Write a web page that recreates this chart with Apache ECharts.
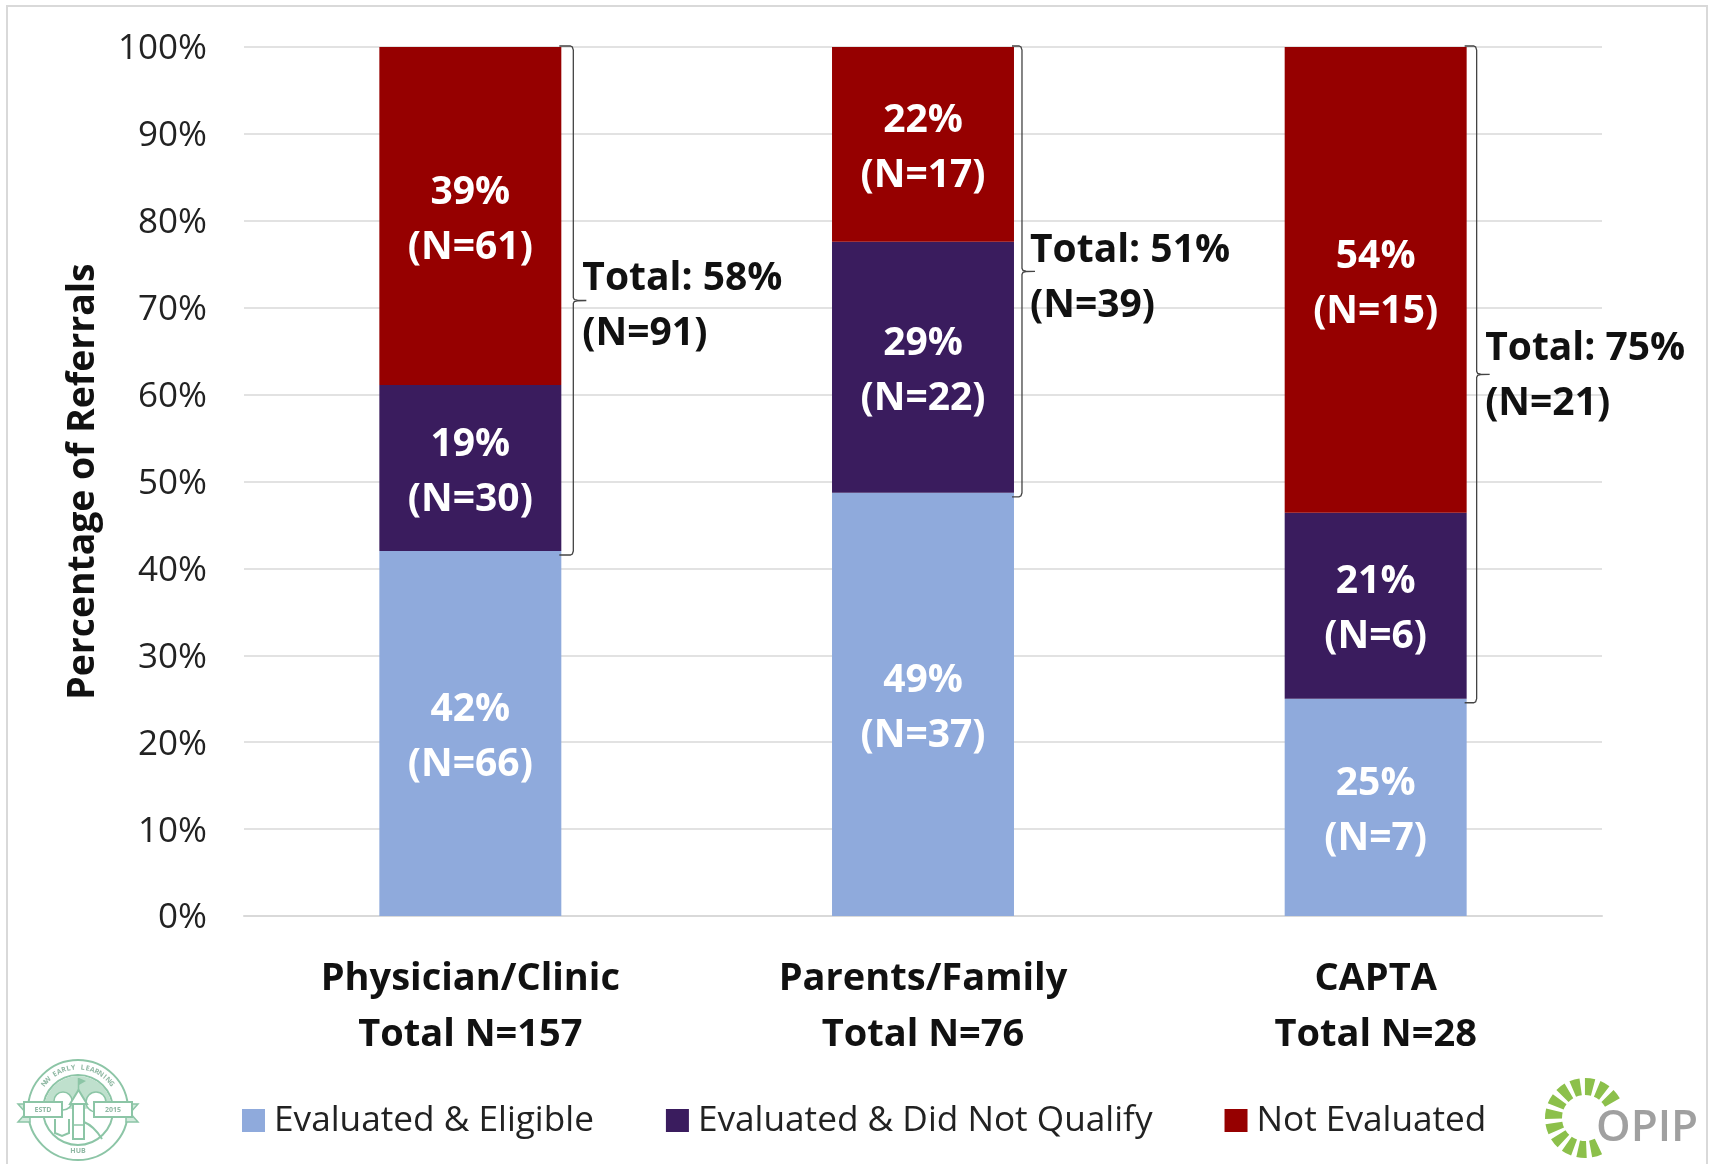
<!DOCTYPE html>
<html><head><meta charset="utf-8">
<style>html,body{margin:0;padding:0;background:#fff}#c{width:1709px;height:1164px}</style>
<script src="https://cdn.jsdelivr.net/npm/echarts@6/dist/echarts.min.js"></script>
</head><body><div id="c"></div>
<script>
const categories = ['Physician/Clinic\nTotal N=157', 'Parents/Family\nTotal N=76', 'CAPTA\nTotal N=28'];
const seriesNames = ['Evaluated & Eligible', 'Evaluated & Did Not Qualify', 'Not Evaluated'];
const eligiblePct = [42.0, 48.7, 25.0];
const eligibleN = [66, 37, 7];
const notQualifyPct = [19.1, 28.9, 21.4];
const notQualifyN = [30, 22, 6];
const notEvaluatedPct = [38.9, 22.4, 53.6];
const notEvaluatedN = [61, 17, 15];
const totalPct = [58, 51, 75];
const totalN = [91, 39, 21];
const colors = ['#8faadc', '#3a1c5e', '#960000'];

const FONT = '"Open Sans"';
const braceGap = [12, 8, 10];
const totalLabelDx = [9, 8, 8.5];
const totalLabelDy = [6, 7, 2];

function bar(name, vals, ns, color) {
  return {
    name, type: 'bar', stack: 'all', barWidth: '40.2%', data: vals,
    itemStyle: { color },
    label: {
      show: true, position: 'inside', offset: [0, 4], color: '#fff', fontFamily: FONT, fontWeight: 700,
      fontSize: 39, lineHeight: 55,
      formatter: p => Math.round(p.value) + '%\n(N=' + ns[p.dataIndex] + ')'
    }
  };
}

const braceData = categories.map((c, i) => [i, eligiblePct[i], 100, totalPct[i], totalN[i]]);

function renderBrace(params, api) {
  const i = api.value(0);
  const bottom = api.coord([i, api.value(1)]);
  const top = api.coord([i, api.value(2)]);
  const half = api.size([1, 0])[0] * 0.201;
  const left = bottom[0] + half;
  const x = left + braceGap[i];
  const y0 = top[1] - 1, y1 = bottom[1] + 4;
  const m = (y0 + y1) / 2;
  const tip = x + 13;
  const pts = [
    [left - 2, y0], [x - 3, y0], [x - 1, y0 + 1], [x, y0 + 4], [x, m - 3], [x + 1, m - 1], [x + 4, m - 0.3], [tip, m],
    [x + 4, m + 0.3], [x + 1, m + 1], [x, m + 3], [x, y1 - 4], [x - 1, y1 - 1], [x - 3, y1], [left - 2, y1]
  ];
  return {
    type: 'group',
    children: [
      { type: 'polyline', shape: { points: pts }, style: { fill: 'none', stroke: '#444', lineWidth: 1.3 } },
      {
        type: 'text', x: x + totalLabelDx[i], y: m + totalLabelDy[i],
        style: {
          text: 'Total: ' + api.value(3) + '%\n(N=' + api.value(4) + ')',
          fill: '#111', font: '700 39px ' + FONT, lineHeight: 55,
          align: 'left', verticalAlign: 'middle'
        }
      }
    ]
  };
}

/* logos */
const badgeGreen = '#8cc5a6';
const badge = [];
const bx = 78, by = 1110;
badge.push({ type: 'circle', shape: { cx: bx, cy: by, r: 50 }, style: { fill: '#fff', stroke: badgeGreen, lineWidth: 2 } });
badge.push({ type: 'circle', shape: { cx: bx, cy: by, r: 35 }, style: { fill: '#fff', stroke: badgeGreen, lineWidth: 2 } });
badge.push({ type: 'sector', shape: { cx: bx, cy: by, r: 34, r0: 0, startAngle: Math.PI * 1.05, endAngle: Math.PI * 1.95 }, style: { fill: '#bfe0cd' } });
badge.push({ type: 'circle', shape: { cx: 63, cy: 1101, r: 9 }, style: { fill: '#fff', stroke: badgeGreen, lineWidth: 1.5 } });
badge.push({ type: 'circle', shape: { cx: 96, cy: 1102, r: 10 }, style: { fill: '#fff', stroke: badgeGreen, lineWidth: 1.5 } });
badge.push({ type: 'rect', shape: { x: 73, y: 1103, width: 11, height: 36 }, style: { fill: '#fff', stroke: badgeGreen, lineWidth: 2 } });
badge.push({ type: 'polygon', shape: { points: [[70, 1104], [87, 1104], [78.5, 1090]] }, style: { fill: '#fff', stroke: badgeGreen, lineWidth: 2 } });
badge.push({ type: 'line', shape: { x1: 78.5, y1: 1090, x2: 78.5, y2: 1078 }, style: { stroke: badgeGreen, lineWidth: 1.5 } });
badge.push({ type: 'polygon', shape: { points: [[79, 1078], [86, 1081], [79, 1085]] }, style: { fill: badgeGreen } });
badge.push({ type: 'line', shape: { x1: 73, y1: 1125, x2: 84, y2: 1125 }, style: { stroke: badgeGreen, lineWidth: 1.5 } });
badge.push({ type: 'polyline', shape: { points: [[55, 1119], [55, 1133], [62, 1136], [69, 1133], [69, 1119]] }, style: { fill: 'none', stroke: badgeGreen, lineWidth: 2 } });
badge.push({ type: 'bezierCurve', shape: { x1: 84, y1: 1122, cpx1: 94, cpy1: 1126, x2: 102, y2: 1139 }, style: { fill: 'none', stroke: badgeGreen, lineWidth: 2 } });
[[18, 'ESTD', 43], [138, '2015', 113]].forEach(([edge, t, cx]) => {
  const l = cx - 19;
  badge.push({ type: 'polygon', shape: { points: edge < 78 ? [[18, 1104], [26, 1113], [18, 1122], [30, 1122], [30, 1104]] : [[138, 1104], [130, 1113], [138, 1122], [126, 1122], [126, 1104]] }, style: { fill: '#d3eadd', stroke: badgeGreen, lineWidth: 1.5 } });
  badge.push({ type: 'rect', shape: { x: l, y: 1102, width: 38, height: 15 }, style: { fill: '#fff', stroke: badgeGreen, lineWidth: 2 } });
  badge.push({ type: 'text', style: { text: t, x: cx, y: 1109.5, align: 'center', verticalAlign: 'middle', font: '700 7px ' + FONT, fill: '#8fb8a3' } });
});
const arcText = 'NW EARLY LEARNING';
[...arcText].forEach((ch, i) => {
  const a = (-142 + i * 104 / (arcText.length - 1)) * Math.PI / 180;
  badge.push({ type: 'text', x: bx + 42.5 * Math.cos(a), y: by + 42.5 * Math.sin(a), rotation: -(a + Math.PI / 2),
    style: { text: ch, x: 0, y: 0, align: 'center', verticalAlign: 'middle', font: '700 7px ' + FONT, fill: '#8fb8a3' } });
});
badge.push({ type: 'text', style: { text: 'HUB', x: bx, y: 1151, align: 'center', verticalAlign: 'middle', font: '700 7px ' + FONT, fill: '#8fb8a3' } });

const opip = [];
for (let k = 0; k < 12; k++) {
  const s = (-37 - k * 22.8 - 7.5) * Math.PI / 180;
  opip.push({ type: 'sector', shape: { cx: 1585, cy: 1118, r: 40, r0: 23, startAngle: s, endAngle: s + 15 * Math.PI / 180 }, style: { fill: '#8cc04b' } });
}
opip.push({ type: 'text', style: { text: 'OPIP', x: 1596, y: 1128, align: 'left', verticalAlign: 'middle', font: '600 44px ' + FONT, fill: '#a0a0a0' } });

const chart = echarts.init(document.getElementById('c'), null, { renderer: 'canvas', width: 1709, height: 1164 });
chart.setOption({
  backgroundColor: '#fff',
  animation: false,
  color: colors,
  grid: { left: 244, right: 107, top: 47, bottom: 248, containLabel: false },
  legend: {
    left: 242, top: 1103, padding: 0, itemWidth: 23, itemHeight: 23, itemGap: 72,
    icon: 'rect', data: seriesNames,
    textStyle: { fontFamily: FONT, fontSize: 35.2, color: '#222', padding: [0, 0, 0, 4] }
  },
  xAxis: {
    type: 'category', data: categories,
    axisTick: { show: false },
    axisLine: { lineStyle: { color: '#d9d9d9', width: 2 } },
    axisLabel: { fontFamily: FONT, fontWeight: 700, fontSize: 38, lineHeight: 56, color: '#111', margin: 35, interval: 0 }
  },
  yAxis: {
    type: 'value', min: 0, max: 100, interval: 10,
    name: 'Percentage of Referrals', nameLocation: 'middle', nameGap: 142, nameRotate: 90,
    nameTextStyle: { fontFamily: FONT, fontWeight: 700, fontSize: 37.3, color: '#111' },
    axisLine: { show: false }, axisTick: { show: false },
    axisLabel: { formatter: '{value}%', fontFamily: FONT, fontSize: 35, color: '#222', margin: 37, verticalAlign: 'top', lineHeight: 5 },
    splitLine: { lineStyle: { color: '#e2e2e2', width: 2 } }
  },
  graphic: [
    { type: 'rect', silent: true, shape: { x: 7, y: 6, width: 1700, height: 1170 }, style: { fill: 'none', stroke: '#d9d9d9', lineWidth: 2 } },
    { type: 'group', silent: true, children: badge },
    { type: 'group', silent: true, children: opip }
  ],
  series: [
    bar(seriesNames[0], eligiblePct, eligibleN, colors[0]),
    bar(seriesNames[1], notQualifyPct, notQualifyN, colors[1]),
    bar(seriesNames[2], notEvaluatedPct, notEvaluatedN, colors[2]),
    {
      type: 'custom', silent: true, renderItem: renderBrace, data: braceData,
      encode: { x: 0, y: [1, 2] }, z: 5, clip: false
    }
  ]
});
</script></body></html>
